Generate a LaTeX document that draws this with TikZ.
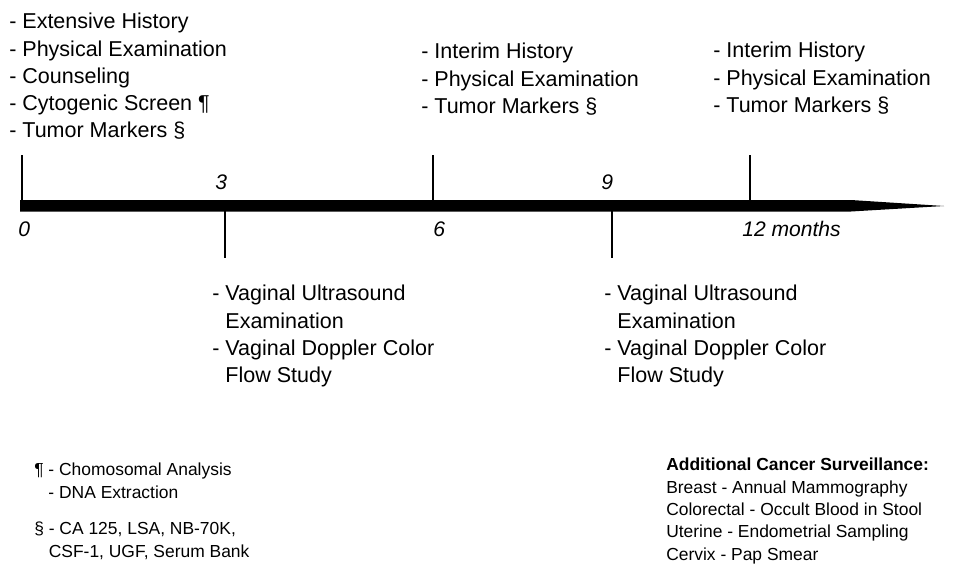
\documentclass[tikz,border=0pt]{standalone}
\usepackage{fontspec}
\setmainfont{Liberation Sans}
\usepackage{tikz}

\begin{document}
\begin{tikzpicture}[x=0.025cm, y=-0.025cm,
  visit/.style={anchor=north west, inner sep=0pt, align=left,
    font=\fontsize{15.3}{19.4}\selectfont},
  note/.style={anchor=north west, inner sep=0pt, align=left,
    font=\fontsize{12.4}{15.9}\selectfont},
  month/.style={anchor=base west, inner sep=0pt,
    font=\fontsize{15}{18}\selectfont\itshape},
  tick/.style={line width=0.8pt}]
  \useasboundingbox (0,0) rectangle (973,565);

  % time axis (thick bar with tapered point)
  \fill (20,200) -- (851,200) -- (944,206) -- (851,211.5) -- (20,211.5) -- cycle;

  % tick marks, visits above and scans below the bar
  \coordinate (m0) at (22,200);
  \coordinate (m3) at (225,211);
  \coordinate (m6) at (433,200);
  \coordinate (m9) at (612,211);
  \coordinate (m12) at (750,200);
  \draw[tick] (m0) -- ++(0,-45);
  \draw[tick] (m6) -- ++(0,-45);
  \draw[tick] (m12) -- ++(0,-45);
  \draw[tick] (m3) -- ++(0,47);
  \draw[tick] (m9) -- ++(0,47);

  % month labels
  \node[month] (lab0) at (18,236) {0};
  \node[month] (lab3) at (215,189) {3};
  \node[month] (lab6) at (433,236) {6};
  \node[month] (lab9) at (601,189) {9};
  \node[month] (lab12) at (742,236) {12 months};

  % visits
  \node[visit] (visit0) at (9,13) {- Extensive History\\- Physical Examination\\- Counseling\\- Cytogenic Screen ¶\\- Tumor Markers §};
  \node[visit] (visit6) at (421,43) {- Interim History\\- Physical Examination\\- Tumor Markers §};
  \node[visit] (visit12) at (713,42) {- Interim History\\- Physical Examination\\- Tumor Markers §};

  % ultrasound scans
  \node[visit] (scan3) at (212,285) {- Vaginal Ultrasound\\\phantom{- }Examination\\- Vaginal Doppler Color\\\phantom{- }Flow Study};
  \node[visit] (scan9) at (604,285) {- Vaginal Ultrasound\\\phantom{- }Examination\\- Vaginal Doppler Color\\\phantom{- }Flow Study};

  % footnotes
  \node[note] (chromo) at (34,463) {¶ - Chomosomal Analysis\\\phantom{¶ }- DNA Extraction};
  \node[note] (markers) at (34,522) {§ - CA 125, LSA, NB-70K,\\\phantom{§ }CSF-1, UGF, Serum Bank};
  \node[note] (extra) at (666,458) {\textbf{Additional Cancer Surveillance:}\\Breast - Annual Mammography\\Colorectal - Occult Blood in Stool\\Uterine - Endometrial Sampling\\Cervix - Pap Smear};
\end{tikzpicture}
\end{document}
